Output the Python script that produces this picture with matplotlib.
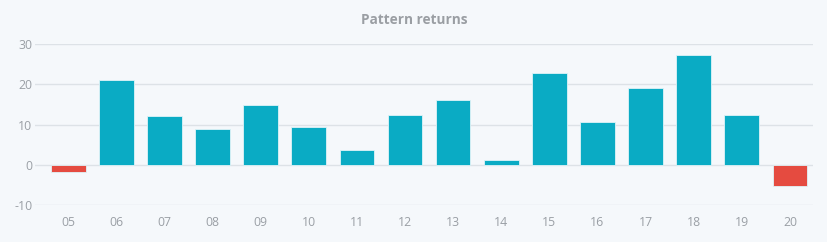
import matplotlib
matplotlib.use("Agg")
from matplotlib import pyplot as plt

labels = ["05", "06", "07", "08", "09", "10", "11", "12",
          "13", "14", "15", "16", "17", "18", "19", "20"]
returns = [-1.7, 21.1, 12.1, 9.0, 14.9, 9.4, 3.6, 12.3,
           16.2, 1.2, 22.9, 10.6, 19.1, 27.4, 12.4, -5.2]
y_ticks = [-10, 0, 10, 20, 30]

bg = "#f5f8fb"
pos_color = "#0aabc4"
neg_color = "#e54b40"
text_color = "#9a9fa5"

plt.rcParams["font.family"] = ["Open Sans", "DejaVu Sans"]

fig = plt.figure(figsize=(8.28, 2.42), dpi=100, facecolor=bg)
ax = fig.add_axes([35 / 828, 37 / 242, 778 / 828, 160.7 / 242])
ax.set_facecolor(bg)

x = list(range(len(labels)))
colors = [pos_color if v >= 0 else neg_color for v in returns]
ax.bar(x, returns, width=0.72, color=colors, edgecolor="#dff3f7",
       linewidth=0.6, zorder=3)

ax.set_xlim(-0.69, 15.48)
ax.set_ylim(-10, 30)
ax.set_yticks(y_ticks)
ax.set_yticklabels([str(t) for t in y_ticks])
ax.set_xticks(x)
ax.set_xticklabels(labels)

ax.grid(axis="y", color="#dde2e7", linewidth=1, zorder=0)
ax.tick_params(axis="both", length=0, labelsize=8.8, colors=text_color)
ax.tick_params(axis="x", pad=8)
ax.tick_params(axis="y", pad=2)
for s in ax.spines.values():
    s.set_visible(False)

fig.text(0.5, 1 - 20 / 242, "Pattern returns", ha="center", va="center",
         fontsize=9.8, fontweight="bold", color="#9a9ea3")

fig.savefig("out.png", dpi=100, facecolor=bg)
